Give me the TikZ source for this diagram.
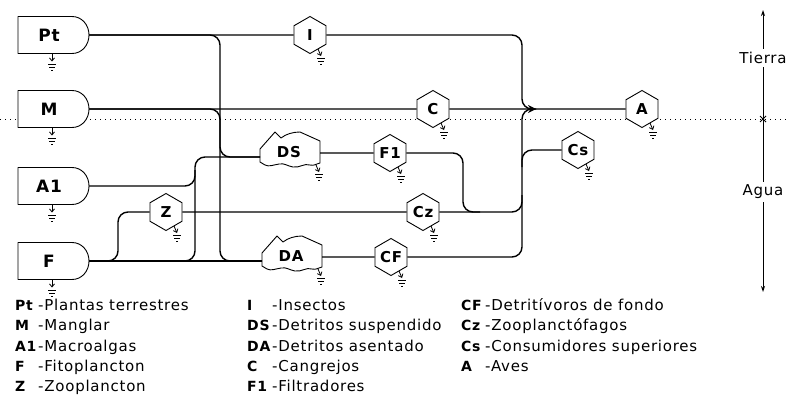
\documentclass[tikz,border=0pt]{standalone}
\usepackage{fontspec}
\setmainfont{DejaVu Sans}[LetterSpace=5]
\usetikzlibrary{shapes.geometric,arrows.meta,calc}
\newcommand\legfont{\fontsize{15}{15}\selectfont}
\tikzset{
  flow/.style={line width=1.4pt, rounded corners=10pt},
  outl/.style={line width=0.9pt, draw, fill=white, line join=round},
  hex/.style={regular polygon, regular polygon sides=6, shape border rotate=30,
    minimum size=37pt, inner sep=0pt, draw, line width=0.9pt, fill=white,
    font=\fontsize{15}{15}\selectfont\bfseries},
  lbl/.style={inner sep=0pt, font=\fontsize{15}{15}\selectfont\bfseries},
  boxlbl/.style={inner sep=0pt, font=\fontsize{17}{17}\selectfont\bfseries},
  legab/.style={anchor=base west, inner sep=0pt, font=\fontsize{14}{14}\selectfont\bfseries},
  legtx/.style={anchor=base west, inner sep=0pt, font=\legfont},
  sinkline/.style={line width=0.8pt},
  sinkv/.pic={\draw[sinkline,-{Straight Barb[length=3pt,width=5pt]}] (0,0) -- (0,8);
     \draw[sinkline] (-4,10.5) -- (4,10.5) (-3,13.5) -- (3,13.5) (-1,16.5) -- (1,16.5);},
  sinkd/.pic={\draw[sinkline,-{Straight Barb[length=3pt,width=5pt]}] (0,0) -- (3,7);
     \draw[sinkline] (-1,9.5) -- (7,9.5) (0,12.5) -- (6,12.5) (2,15.5) -- (4,15.5);},
  dotline/.style={line width=1pt, dash pattern=on 1pt off 4pt},
  axisline/.style={line width=1pt},
  sidelbl/.style={fill=white, inner sep=3pt, font=\legfont},
}
\newcommand\srcbox[3]{%
  \begin{scope}[shift={(0,#2)}]
    \draw[outl] (18,-18.5) -- (72,-18.5) .. controls (82,-18.5) and (89,-10) .. (89,0)
      .. controls (89,10) and (82,18.5) .. (72,18.5) -- (18,18.5) -- cycle;
    \node[boxlbl] (#1) at (49,0) {#3};
    \coordinate (#1-out) at (89,0);
    \pic at (52,18.5) {sinkv};
  \end{scope}}
\newcommand\hexnode[4]{%
  \node[hex] (#1) at (#2,#3) {#4};
  \pic at (#2+8,#3+14) {sinkd};}
\newcommand\detnode[4]{%
  \begin{scope}[shift={(#2,#3)}]
    \draw[outl] (-29,10) -- (-29,-3) -- (-14,-20) -- (-8,-14)
      .. controls (-3,-18) and (4,-20) .. (11,-20) -- (31,-11) -- (31,11)
      .. controls (27,12) and (25,14) .. (21,13)
      .. controls (15,11) and (11,16) .. (4,15)
      .. controls (-2,14) and (-4,11) .. (-10,12)
      .. controls (-16,13) and (-20,15) .. (-24,13) -- cycle;
    \node[lbl] (#1) at (0,0) {#4};
    \coordinate (#1-in) at (-29,5);
    \coordinate (#1-out) at (31,1);
    \pic at (27,13) {sinkd};
  \end{scope}}
\newcommand\legrow[6]{%
  \node[legab] (lg#1) at (#2,#4) {#5};
  \node[legtx] (lg#1t) at (#3,#4) {-#6};}
\begin{document}
\begin{tikzpicture}[x=1pt,y=-1pt]
\useasboundingbox (0,0) rectangle (788,410);
% boundary land / water
\coordinate (dotL) at (0,119);
\coordinate (dotR) at (788,119);
\draw[dotline] (dotL) -- (dotR);
% sources
\srcbox{Pt}{35}{Pt}
\srcbox{M}{109}{M}
\srcbox{A1}{186}{A1}
\srcbox{F}{261}{F}
% consumers
\hexnode{I}{310}{35}{I}
\hexnode{C}{433}{109}{C}
\hexnode{A}{642}{109}{A}
\hexnode{Z}{166}{212}{Z}
\hexnode{Cz}{423}{212}{Cz}
\hexnode{F1}{390}{153}{F1}
\hexnode{CF}{391}{257}{CF}
\hexnode{Cs}{578}{150}{Cs}
% detritus
\detnode{DS}{289}{152}{DS}
\detnode{DA}{291}{256}{DA}
% buses
\coordinate (busZ) at (118,0);
\coordinate (busB) at (195,0);
\coordinate (busA) at (220,0);
\coordinate (busF) at (463,0);
\coordinate (busR) at (522,0);
\coordinate (J) at (536,109);
\coordinate (a1up) at (195,170);
\coordinate (czup) at (522,195);
\coordinate (csdn) at (522,167);
\coordinate (f1j) at (480,212);
% flows
\draw[flow] (Pt-out) -- (I.west);
\draw[flow] (Pt-out) -- (busA |- Pt-out) -- (busA |- DA-in) -- (DA-in);
\draw[flow] (M-out) -- (C.west);
\draw[flow] (M-out) -- (busA |- M-out) -- (busA |- DS-in) -- (DS-in);
\draw[flow] (A1-out) -- (busB |- A1-out) -- (a1up);
\draw[flow] (F-out) -- (DA-in);
\draw[flow] (F-out) -- (busB |- F-out) -- (busB |- DS-in) -- (DS-in);
\draw[flow] (F-out) -- (busZ |- F-out) -- (busZ |- Z.west) -- (Z.west);
\draw[flow] (Z.east) -- (Cz.west);
\draw[flow] (DS-out) -- (F1.west);
\draw[flow] (DA-out) -- (CF.west);
\draw[flow] (F1.east) -- (busF |- F1.east) -- (busF |- Cz.east) -- (f1j);
\draw[flow] (Cz.east) -- (busR |- Cz.east) -- (czup);
\draw[flow] (CF.east) -- (busR |- CF.east) -- (busR |- J) -- (J);
\draw[flow] (I.east) -- (busR |- I.east) -- (busR |- J) -- (J);
\draw[flow] (Cs.west) -- (busR |- Cs.west) -- (csdn);
\draw[flow,-{Stealth[length=8pt,width=8pt]}] (C.east) -- (J);
\draw[flow] (J) -- (A.west);
% side axis
\coordinate (axT) at (763,10);
\coordinate (axB) at (763,292);
\coordinate (tick) at (763,119);
\draw[axisline,{Stealth[length=6pt,width=4pt]}-{Stealth[length=6pt,width=4pt]}] (axT) -- (axB);
\draw[line width=0.8pt] ($(tick)+(-3,-3)$) -- ($(tick)+(3,3)$) ($(tick)+(-3,3)$) -- ($(tick)+(3,-3)$);
\node[sidelbl] (Tierra) at (763,58) {Tierra};
\node[sidelbl] (Agua) at (763,192) {Agua};
% legend
\legrow{Pt}{15}{38}{310}{Pt}{Plantas terrestres}
\legrow{M}{15}{38}{330.5}{M}{Manglar}
\legrow{Al}{15}{38}{351}{A1}{Macroalgas}
\legrow{F}{15}{38}{371}{F}{Fitoplancton}
\legrow{Z}{15}{38}{391.5}{Z}{Zooplancton}
\legrow{I}{247}{272}{310}{I}{Insectos}
\legrow{DS}{247}{272}{330.5}{DS}{Detritos suspendido}
\legrow{DA}{247}{272}{351}{DA}{Detritos asentado}
\legrow{C}{247}{272}{371}{C}{Cangrejos}
\legrow{Fl}{247}{272}{391.5}{F1}{Filtradores}
\legrow{CF}{461}{485}{310}{CF}{Detritívoros de fondo}
\legrow{Cz}{461}{485}{330.5}{Cz}{Zooplanctófagos}
\legrow{Cs}{461}{485}{351}{Cs}{Consumidores superiores}
\legrow{A}{461}{485}{371}{A}{Aves}
\end{tikzpicture}
\end{document}
